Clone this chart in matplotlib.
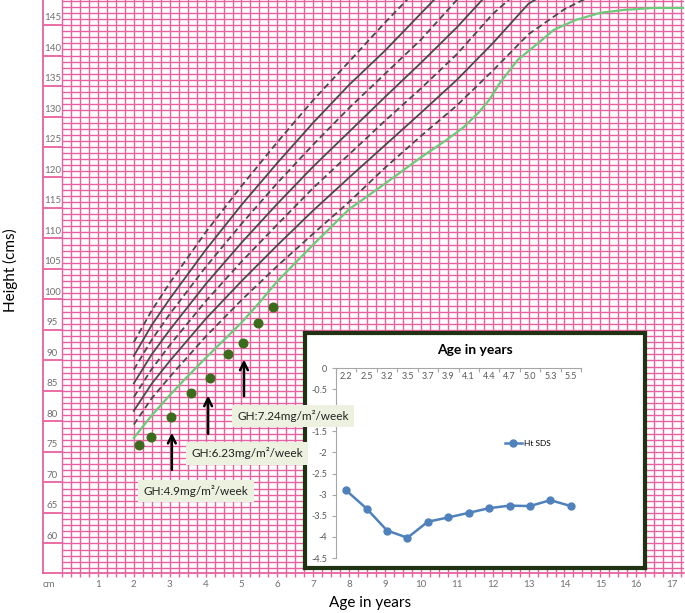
import numpy as np
import matplotlib.pyplot as plt

plt.rcParams['font.family'] = ['Lato', 'DejaVu Sans']

# reference centile curves, age in years -> height in cm
curve_ages = [2, 2.5, 3, 4, 5, 6, 7, 8, 9, 10, 11, 12, 13, 14, 15]
c1_dash = [79.5, 83.8, 87.3, 93.9, 99.9, 105.5, 110.8, 116.0, 121.6, 126.8, 131.8, 137.5, 143.5, 147.6, 150.5]
c2_solid = [81.75, 86.2, 89.9, 96.8, 103.0, 108.9, 114.6, 120.0, 125.3, 130.6, 136.0, 142.0, 148.5, 152.0]
c3_dash = [84.0, 88.6, 92.5, 99.7, 106.2, 112.3, 118.3, 123.8, 129.3, 134.6, 140.2, 146.8, 152.0]
c4_solid = [86.25, 91.0, 95.0, 102.5, 109.3, 115.7, 121.8, 127.5, 133.2, 138.8, 144.6, 151.0]
c5_dash = [88.5, 93.4, 97.6, 105.3, 112.4, 119.1, 125.4, 131.4, 137.0, 142.6, 149.1, 155.0]
c6_solid = [90.75, 95.8, 100.1, 108.1, 115.5, 122.4, 129.0, 135.2, 140.8, 146.9, 153.0]
c7_dash = [93.0, 98.2, 102.7, 111.0, 118.6, 125.8, 132.7, 139.0, 145.4, 151.5]

green_ages = [2, 2.5, 3, 3.5, 4, 4.5, 5, 5.5, 6, 7, 8, 9, 10, 10.7, 11.2, 11.6, 11.9, 12.2, 12.7,
              13.3, 13.7, 14.3, 15, 15.7, 16.5, 17.3]
green_ht = [77.3, 81.0, 84.3, 87.4, 90.4, 93.3, 96.2, 99.5, 103.0, 109.0, 114.8, 119.0, 123.3, 126.1,
            128.3, 130.6, 132.7, 135.5, 139.3, 142.2, 144.2, 145.8, 147.0, 147.5, 147.8, 147.8]

# patient measurements
pt_age = [2.15, 2.47, 3.03, 3.58, 4.12, 4.63, 5.05, 5.47, 5.89]
pt_ht = [76.1, 77.5, 80.7, 84.6, 87.1, 91.1, 92.9, 96.2, 98.8]

# GH dose annotations
gh_labels = ['GH:4.9mg/m²/week', 'GH:6.23mg/m²/week', 'GH:7.24mg/m²/week']
gh_arrow_age = [3.06, 4.07, 5.07]
gh_arrow_from = [71.6, 77.5, 83.7]
gh_arrow_to = [78.6, 84.7, 90.6]
gh_box_age = [3.73, 5.15, 6.43]
gh_box_ht = [68.6, 74.8, 80.9]

# inset: height SDS
sds_ages = ['2.2', '2.5', '3.2', '3.5', '3.7', '3.9', '4.1', '4.4', '4.7', '5.0', '5.3', '5.5']
sds_vals = [-2.9, -3.33, -3.85, -4.02, -3.64, -3.54, -3.43, -3.32, -3.26, -3.27, -3.13, -3.27]

W, H = 685, 613
fig = plt.figure(figsize=(W / 100, H / 100), dpi=100)

pink = '#e8619f'
x0, x1 = -0.53, 17.33
y0, y1 = 55.16, 149.1

ax = fig.add_axes([43 / W, (H - 573) / H, 641 / W, 573 / H])
ax.set_xlim(x0, x1)
ax.set_ylim(y0, y1)
for s in ['top', 'right']:
    ax.spines[s].set_visible(False)
for s in ['left', 'bottom']:
    ax.spines[s].set_color(pink)
    ax.spines[s].set_linewidth(1.3)

# chart paper grid
for xv in np.arange(0, x1, 0.25):
    ax.axvline(xv, color=pink, lw=1.0, zorder=1)
for yv in range(56, 150):
    ax.hlines(yv, 0, x1, color=pink, lw=1.0, zorder=1)
for yv in range(60, 150, 5):
    ax.hlines(yv, x0, 0, color=pink, lw=1.3, zorder=1)
    ax.text(-0.27, yv + 0.45, str(yv), ha='center', va='bottom', fontsize=7, color='#707070')

ax.set_yticks([])
ax.set_xticks(np.arange(0, x1, 0.25))
ax.set_xticklabels([])
ax.tick_params(axis='x', length=3, color=pink, width=1)
for a in range(1, 18):
    ax.text(a, -0.012, str(a), transform=ax.get_xaxis_transform(), ha='center', va='top',
            fontsize=7, color='#707070')
ax.text(-0.38, -0.012, 'cm', transform=ax.get_xaxis_transform(), ha='center', va='top',
        fontsize=7, color='#707070')

dark = '#4a4a4a'
for vals, style in [(c1_dash, 'dash'), (c2_solid, 'solid'), (c3_dash, 'dash'), (c4_solid, 'solid'),
                    (c5_dash, 'dash'), (c6_solid, 'solid'), (c7_dash, 'dash')]:
    ls = (0, (3.5, 2)) if style == 'dash' else '-'
    ax.plot(curve_ages[:len(vals)], vals, color=dark, lw=1.3, ls=ls, zorder=3)
ax.plot(green_ages, green_ht, color='#6cca7a', lw=1.6, zorder=3)

ax.plot(pt_age, pt_ht, 'o', color='#3b6b1c', ms=6.2, zorder=4)

fig.text(10 / W, 1 - 270 / H, 'Height (cms)', rotation=90, ha='center', va='center', fontsize=11)
fig.text(370 / W, 1 - 603 / H, 'Age in years', ha='center', va='center', fontsize=11)

# inset frame
frame = fig.add_axes([305 / W, (H - 568) / H, 340 / W, 235 / H])
frame.set_xticks([])
frame.set_yticks([])
for s in frame.spines.values():
    s.set_color('#1f3312')
    s.set_linewidth(3)
frame.text(0.5, 1 - 17 / 235, 'Age in years', transform=frame.transAxes, ha='center', va='center',
           fontsize=10, fontweight='bold')

ins = fig.add_axes([336 / W, (H - 558) / H, 245 / W, 190 / H])
ins.patch.set_alpha(0)
ins.set_ylim(-4.5, 0)
ins.set_xlim(-0.5, len(sds_ages) - 0.5)
for s in ['bottom', 'right']:
    ins.spines[s].set_visible(False)
ins.spines['left'].set_color('#a6a6a6')
ins.spines['top'].set_color('#a6a6a6')
ins.set_yticks(np.arange(0, -4.51, -0.5))
ins.set_yticklabels(['0', '-0.5', '-1', '-1.5', '-2', '-2.5', '-3', '-3.5', '-4', '-4.5'])
ins.tick_params(axis='y', labelsize=6.5, labelcolor='#595959', color='#a6a6a6', length=3)
ins.xaxis.set_ticks_position('top')
ins.set_xticks(np.arange(-0.5, len(sds_ages), 1))
ins.set_xticklabels([])
ins.tick_params(axis='x', direction='in', color='#a6a6a6', length=3)
for i, lab in enumerate(sds_ages):
    ins.text(i, -0.1, lab, ha='center', va='top', fontsize=6.5, color='#595959')
ins.plot(range(len(sds_vals)), sds_vals, '-o', color='#4f81bd', lw=1.8, ms=5, label='Ht SDS')
ins.legend(loc='center left', bbox_to_anchor=(0.69, 0.605), frameon=False, fontsize=6,
           handlelength=2, handletextpad=0.3, borderpad=0, borderaxespad=0)

# GH dose arrows and labels, drawn above the inset
for a, yf, yt in zip(gh_arrow_age, gh_arrow_from, gh_arrow_to):
    ax.annotate('', xy=(a, yt), xytext=(a, yf),
                arrowprops=dict(arrowstyle='->', color='black', lw=1.8, mutation_scale=14))
for lab, a, h in zip(gh_labels, gh_box_age, gh_box_ht):
    fig.text(a, h, lab, transform=ax.transData, ha='center', va='center', fontsize=8.5,
             color='#222222', bbox=dict(boxstyle='square,pad=0.45', fc='#edf1e0', ec='none'))

fig.savefig('out.png', dpi=100)
